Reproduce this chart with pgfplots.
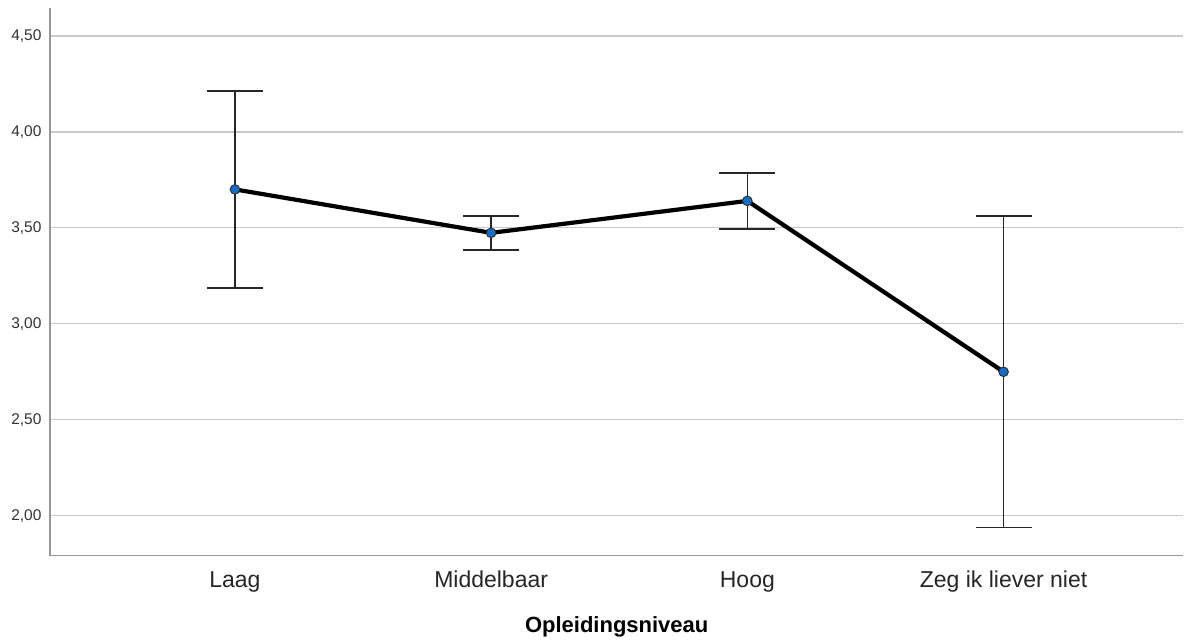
\documentclass[border=0pt]{standalone}
\usepackage{pgfplots}
\pgfplotsset{compat=1.18}
\usepackage{fontspec}
\setmainfont{Liberation Sans}
\definecolor{gridc}{RGB}{200,200,200}
\definecolor{axc}{RGB}{150,150,150}
\definecolor{mk}{RGB}{20,110,200}
\begin{document}
\begin{tikzpicture}
\begin{axis}[
  name=ax,
  scale only axis,
  width=1134pt, height=548pt,
  xmin=-0.722, xmax=3.702,
  ymin=1.7917, ymax=4.6458,
  axis x line*=bottom, axis y line*=left,
  axis line style={axc, line width=1.2pt},
  xtick={0,1,2,3},
  xticklabels={Laag,Middelbaar,Hoog,Zeg ik liever niet},
  xticklabel style={font=\fontsize{23}{27}\selectfont, text=black!85, yshift=-12pt},
  ytick={2,2.5,3,3.5,4,4.5},
  yticklabel style={font=\fontsize{15.5}{18}\selectfont, text=black!80, xshift=-5pt},
  /pgf/number format/.cd, fixed, fixed zerofill, precision=2, use comma, assume math mode=true,
  /pgfplots/.cd,
  major tick length=0pt,
  ymajorgrids,
  grid style={gridc, line width=1.2pt},
  xlabel={\textbf{Opleidingsniveau}},
  xlabel style={font=\fontsize{22}{26}\selectfont, yshift=-17pt},
  clip=false,
]
\addplot[black, line width=4.2pt, mark=none] coordinates {(0,3.7005) (1,3.474) (2,3.6406) (3,2.75)};
\addplot[draw=none, mark=none,
  error bars/.cd, y dir=both, y explicit,
  error bar style={black!85, line width=1.5pt},
  error mark options={rotate=90, mark size=28pt, line width=1.5pt, black!85}]
  coordinates {
  (0,3.7005) +- (0,0.513)
  (1,3.474) +- (0,0.0885)
  (2,3.6406) +- (0,0.1458)
  (3,2.75) +- (0,0.8125)
};
\addplot[only marks, mark=*, mark size=4.8pt, mark options={fill=mk, draw=black!80, line width=1pt}]
  coordinates {(0,3.7005) (1,3.474) (2,3.6406) (3,2.75)};
\end{axis}
\path (ax.south west) ++(-50pt,-85pt) rectangle ([yshift=8pt]ax.north east);
\end{tikzpicture}
\end{document}
